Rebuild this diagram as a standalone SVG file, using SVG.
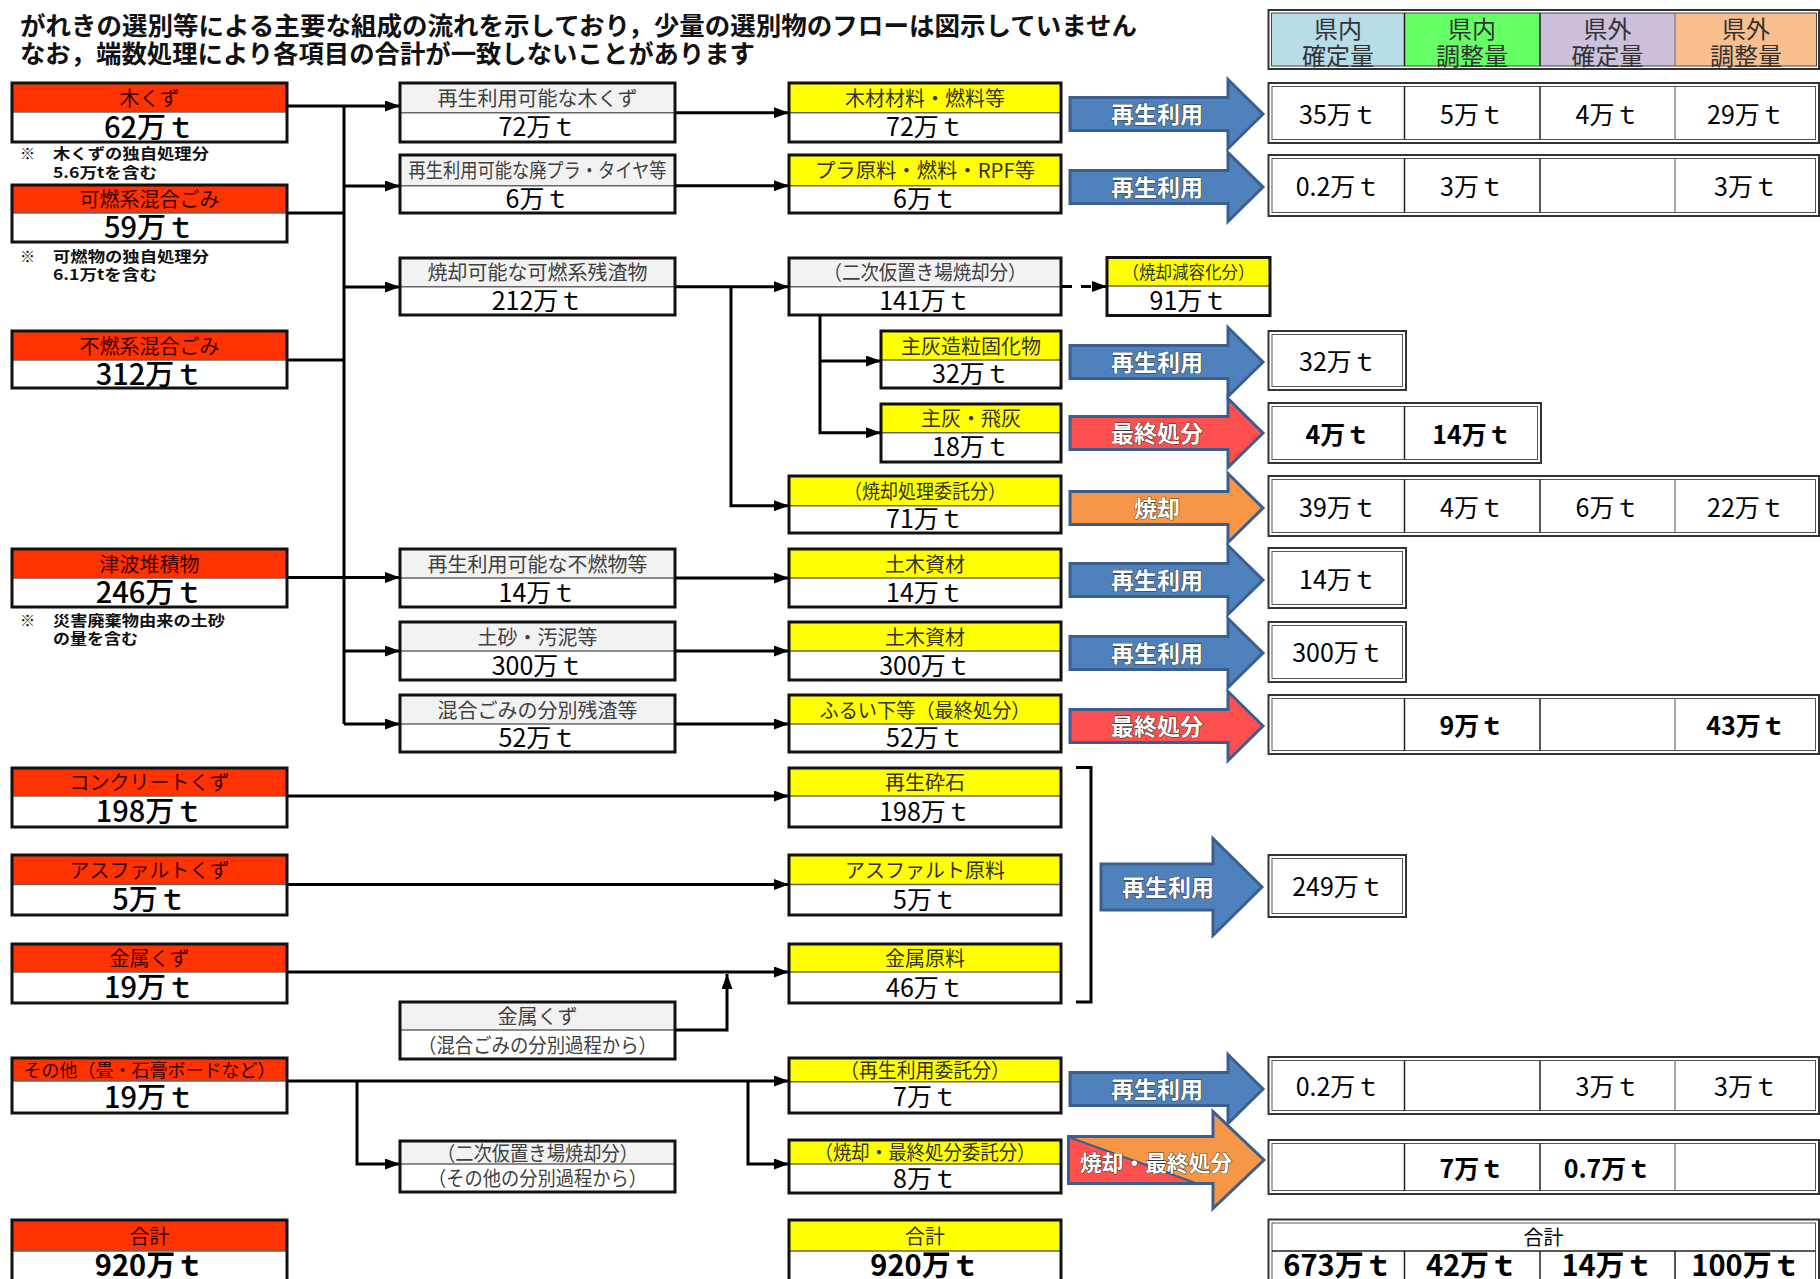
<svg xmlns="http://www.w3.org/2000/svg" width="1820" height="1279" viewBox="0 0 1820 1279">
<style>
text{font-family:"Noto Sans CJK JP","Noto Sans CJK SC",sans-serif}
.ttl{font-size:25px;font-weight:bold;fill:#111}
.note{font-size:15px;font-weight:bold;fill:#111}
.box{fill:none;stroke:#111;stroke-width:3}
.dv{stroke:#666;stroke-width:1.5}
.red{fill:#FF3300}
.yel{fill:#FFFF00}
.gry{fill:#F2F2F2}
.wht{fill:#FFFFFF}
.h{font-size:20px;text-anchor:middle;dominant-baseline:central;fill:#333}
.hg{fill:#404040}
.hr{fill:#3a0000}
.v{font-size:25px;text-anchor:middle;dominant-baseline:central;fill:#000}
.lv{font-size:29px;text-anchor:middle;dominant-baseline:central;fill:#000;font-weight:500}
.b{font-weight:bold}
.ln{fill:none;stroke:#000;stroke-width:3}
.to{fill:#fff;stroke:#333;stroke-width:2}
.ti{fill:none;stroke:#555;stroke-width:1}
.cd{stroke:#222;stroke-width:1.5}
.cdg{stroke:#888;stroke-width:1.5}
.arB{fill:#4F81BD;stroke:#3A5F8F;stroke-width:3}
.arR{fill:#FF5050;stroke:#3A5F8F;stroke-width:3}
.arO{fill:#F79646;stroke:#3A5F8F;stroke-width:3}
.at{font-size:23px;font-weight:bold;fill:#fff;stroke:#333;stroke-width:1;paint-order:stroke;text-anchor:middle;dominant-baseline:central}
.lg{font-size:24px;text-anchor:middle;dominant-baseline:central;fill:#333}
</style>
<defs>
<marker id="ah" markerUnits="userSpaceOnUse" markerWidth="16" markerHeight="11" refX="15" refY="5.5" orient="auto"><path d="M0,0 L15,5.5 L0,11 z" fill="#000"/></marker>
</defs>
<rect width="1820" height="1279" fill="#fff"/>

<g id="title">
<text class="ttl" x="20" y="35" textLength="1117" lengthAdjust="spacingAndGlyphs">がれきの選別等による主要な組成の流れを示しており，少量の選別物のフローは図示していません</text>
<text class="ttl" x="20" y="63" textLength="735" lengthAdjust="spacingAndGlyphs">なお，端数処理により各項目の合計が一致しないことがあります</text>
</g>

<g id="legend">
<rect x="1268.5" y="10" width="550.5" height="59" fill="#fff" stroke="#333" stroke-width="2"/>
<rect x="1271.5" y="13" width="133" height="53" fill="#B7DDE8"/>
<rect x="1404.5" y="13" width="135.5" height="53" fill="#66FF66"/>
<rect x="1540" y="13" width="135" height="53" fill="#CCC0DA"/>
<rect x="1675" y="13" width="141.5" height="53" fill="#FABF8F"/>
<rect x="1271.5" y="13" width="545" height="53" fill="none" stroke="#444" stroke-width="1"/>
<line class="cd" x1="1404.5" y1="13" x2="1404.5" y2="66"/>
<line class="cd" x1="1540" y1="13" x2="1540" y2="66"/>
<line class="cdg" x1="1675" y1="13" x2="1675" y2="66"/>
<text class="lg" x="1338" y="27">県内</text><text class="lg" x="1338" y="54">確定量</text>
<text class="lg" x="1472" y="27">県内</text><text class="lg" x="1472" y="54">調整量</text>
<text class="lg" x="1607.5" y="27">県外</text><text class="lg" x="1607.5" y="54">確定量</text>
<text class="lg" x="1746" y="27">県外</text><text class="lg" x="1746" y="54">調整量</text>
</g>

<g id="connectors">
<path class="ln" d="M287,106 H400" marker-end="url(#ah)"/>
<path class="ln" d="M287,213 H344"/>
<path class="ln" d="M287,360 H344"/>
<path class="ln" d="M287,577.5 H400" marker-end="url(#ah)"/>
<path class="ln" d="M344,106 V724"/>
<path class="ln" d="M344,186 H400" marker-end="url(#ah)"/>
<path class="ln" d="M344,287 H400" marker-end="url(#ah)"/>
<path class="ln" d="M344,651 H400" marker-end="url(#ah)"/>
<path class="ln" d="M344,724 H400" marker-end="url(#ah)"/>
<path class="ln" d="M675,112.7 H789" marker-end="url(#ah)"/>
<path class="ln" d="M675,185.7 H789" marker-end="url(#ah)"/>
<path class="ln" d="M675,286.7 H789" marker-end="url(#ah)"/>
<path class="ln" d="M731,286.7 V505.7 H789" marker-end="url(#ah)"/>
<path class="ln" d="M1062,286.5 H1107" stroke-width="4" stroke-dasharray="10 9" marker-end="url(#ah)"/>
<path class="ln" d="M820,315 V432.7 H881" marker-end="url(#ah)"/>
<path class="ln" d="M820,361 H881" marker-end="url(#ah)"/>
<path class="ln" d="M675,578 H789" marker-end="url(#ah)"/>
<path class="ln" d="M675,651 H789" marker-end="url(#ah)"/>
<path class="ln" d="M675,724 H789" marker-end="url(#ah)"/>
<path class="ln" d="M287,796 H789" marker-end="url(#ah)"/>
<path class="ln" d="M287,884.5 H789" stroke-width="2" marker-end="url(#ah)"/>
<path class="ln" d="M287,972 H789" stroke-width="4" marker-end="url(#ah)"/>
<path class="ln" d="M675,1030 H727 V974" marker-end="url(#ah)"/>
<path class="ln" d="M287,1081 H789" marker-end="url(#ah)"/>
<path class="ln" d="M357,1081 V1164 H400" stroke-width="2.5" marker-end="url(#ah)"/>
<path class="ln" d="M748,1081 V1164 H789" stroke-width="2.5" marker-end="url(#ah)"/>
<path class="ln" d="M1076,767.5 H1091 V1002 H1076"/>
</g>

<!-- left column -->
<g id="n-kikuzu">
<rect class="red" x="12" y="83" width="275" height="29"/><rect class="wht" x="12" y="112" width="275" height="30"/>
<line class="dv" x1="12" y1="112" x2="287" y2="112"/><rect class="box" x="12" y="83" width="275" height="59"/>
<text class="h hr" x="149.5" y="97">木くず</text><text class="lv" x="149.5" y="124.5">62万ｔ</text>
<text class="note" x="20" y="159">※</text>
<text class="note" x="53" y="159" textLength="156" lengthAdjust="spacingAndGlyphs">木くずの独自処理分</text>
<text class="note" x="53" y="178" textLength="104" lengthAdjust="spacingAndGlyphs">5.6万tを含む</text>
</g>
<g id="n-kanen">
<rect class="red" x="12" y="185" width="275" height="28"/><rect class="wht" x="12" y="213" width="275" height="29"/>
<line class="dv" x1="12" y1="213" x2="287" y2="213"/><rect class="box" x="12" y="185" width="275" height="57"/>
<text class="h hr" x="149.5" y="198.5">可燃系混合ごみ</text><text class="lv" x="149.5" y="225">59万ｔ</text>
<text class="note" x="20" y="262">※</text>
<text class="note" x="53" y="262" textLength="156" lengthAdjust="spacingAndGlyphs">可燃物の独自処理分</text>
<text class="note" x="53" y="280" textLength="104" lengthAdjust="spacingAndGlyphs">6.1万tを含む</text>
</g>
<g id="n-funen">
<rect class="red" x="12" y="331" width="275" height="29"/><rect class="wht" x="12" y="360" width="275" height="28"/>
<line class="dv" x1="12" y1="360" x2="287" y2="360"/><rect class="box" x="12" y="331" width="275" height="57"/>
<text class="h hr" x="149.5" y="345">不燃系混合ごみ</text><text class="lv" x="149.5" y="371.5">312万ｔ</text>
</g>
<g id="n-tsunami">
<rect class="red" x="12" y="549" width="275" height="29"/><rect class="wht" x="12" y="578" width="275" height="29"/>
<line class="dv" x1="12" y1="578" x2="287" y2="578"/><rect class="box" x="12" y="549" width="275" height="58"/>
<text class="h hr" x="149.5" y="563">津波堆積物</text><text class="lv" x="149.5" y="590">246万ｔ</text>
<text class="note" x="20" y="626">※</text>
<text class="note" x="53" y="626" textLength="172" lengthAdjust="spacingAndGlyphs">災害廃棄物由来の土砂</text>
<text class="note" x="53" y="644" textLength="85" lengthAdjust="spacingAndGlyphs">の量を含む</text>
</g>
<g id="n-concrete">
<rect class="red" x="12" y="768" width="275" height="28"/><rect class="wht" x="12" y="796" width="275" height="31"/>
<line class="dv" x1="12" y1="796" x2="287" y2="796"/><rect class="box" x="12" y="768" width="275" height="59"/>
<text class="h hr" x="149.5" y="781.5">コンクリートくず</text><text class="lv" x="149.5" y="809">198万ｔ</text>
</g>
<g id="n-asphalt">
<rect class="red" x="12" y="855" width="275" height="29.5"/><rect class="wht" x="12" y="884.5" width="275" height="30.5"/>
<line class="dv" x1="12" y1="884.5" x2="287" y2="884.5"/><rect class="box" x="12" y="855" width="275" height="60"/>
<text class="h hr" x="149.5" y="869.2">アスファルトくず</text><text class="lv" x="149.5" y="897">5万ｔ</text>
</g>
<g id="n-kinzoku">
<rect class="red" x="12" y="944" width="275" height="28"/><rect class="wht" x="12" y="972" width="275" height="31"/>
<line class="dv" x1="12" y1="972" x2="287" y2="972"/><rect class="box" x="12" y="944" width="275" height="59"/>
<text class="h hr" x="149.5" y="957.5">金属くず</text><text class="lv" x="149.5" y="985">19万ｔ</text>
</g>
<g id="n-sonota">
<rect class="red" x="12" y="1058" width="275" height="23"/><rect class="wht" x="12" y="1081" width="275" height="32"/>
<line class="dv" x1="12" y1="1081" x2="287" y2="1081"/><rect class="box" x="12" y="1058" width="275" height="55"/>
<text class="h hr" x="149.5" y="1069" style="font-size:18px" textLength="252" lengthAdjust="spacingAndGlyphs">その他（畳・石膏ボードなど）</text><text class="lv" x="149.5" y="1094.5">19万ｔ</text>
</g>
<g id="n-total-left">
<rect class="red" x="12" y="1220" width="275" height="31"/><rect class="wht" x="12" y="1251" width="275" height="40"/>
<line class="dv" x1="12" y1="1251" x2="287" y2="1251"/><rect class="box" x="12" y="1220" width="275" height="71"/>
<text class="h hr" x="149.5" y="1235">合計</text><text class="lv b" x="149.5" y="1263" style="font-size:29px">920万ｔ</text>
</g>

<!-- middle-left column -->
<g id="n-saisei-kikuzu">
<rect class="gry" x="400" y="83" width="275" height="29.7"/><rect class="wht" x="400" y="112.7" width="275" height="29.3"/>
<line class="dv" x1="400" y1="112.7" x2="675" y2="112.7"/><rect class="box" x="400" y="83" width="275" height="59"/>
<text class="h hg" x="537.5" y="97.3">再生利用可能な木くず</text><text class="v" x="537.5" y="125.4">72万ｔ</text>
</g>
<g id="n-saisei-haipura">
<rect class="gry" x="400" y="155" width="275" height="30.7"/><rect class="wht" x="400" y="185.7" width="275" height="27.3"/>
<line class="dv" x1="400" y1="185.7" x2="675" y2="185.7"/><rect class="box" x="400" y="155" width="275" height="58"/>
<text class="h hg" x="537.5" y="169.8" textLength="258" lengthAdjust="spacingAndGlyphs">再生利用可能な廃プラ・タイヤ等</text><text class="v" x="537.5" y="197.4">6万ｔ</text>
</g>
<g id="n-shokyaku-kanen">
<rect class="gry" x="400" y="258" width="275" height="28.7"/><rect class="wht" x="400" y="286.7" width="275" height="28.3"/>
<line class="dv" x1="400" y1="286.7" x2="675" y2="286.7"/><rect class="box" x="400" y="258" width="275" height="57"/>
<text class="h hg" x="537.5" y="271.8">焼却可能な可燃系残渣物</text><text class="v" x="537.5" y="298.9">212万ｔ</text>
</g>
<g id="n-saisei-funen">
<rect class="gry" x="400" y="549" width="275" height="29"/><rect class="wht" x="400" y="578" width="275" height="29"/>
<line class="dv" x1="400" y1="578" x2="675" y2="578"/><rect class="box" x="400" y="549" width="275" height="58"/>
<text class="h hg" x="537.5" y="563">再生利用可能な不燃物等</text><text class="v" x="537.5" y="590.5">14万ｔ</text>
</g>
<g id="n-dosha">
<rect class="gry" x="400" y="622" width="275" height="29"/><rect class="wht" x="400" y="651" width="275" height="29"/>
<line class="dv" x1="400" y1="651" x2="675" y2="651"/><rect class="box" x="400" y="622" width="275" height="58"/>
<text class="h hg" x="537.5" y="636">土砂・汚泥等</text><text class="v" x="537.5" y="663.5">300万ｔ</text>
</g>
<g id="n-zansa">
<rect class="gry" x="400" y="695" width="275" height="29"/><rect class="wht" x="400" y="724" width="275" height="28"/>
<line class="dv" x1="400" y1="724" x2="675" y2="724"/><rect class="box" x="400" y="695" width="275" height="57"/>
<text class="h hg" x="537.5" y="709">混合ごみの分別残渣等</text><text class="v" x="537.5" y="736">52万ｔ</text>
</g>
<g id="n-kinzoku-kongo">
<rect class="gry" x="400" y="1002" width="275" height="28"/><rect class="wht" x="400" y="1030" width="275" height="29"/>
<line class="dv" x1="400" y1="1030" x2="675" y2="1030"/><rect class="box" x="400" y="1002" width="275" height="57"/>
<text class="h hg" x="537.5" y="1015.5">金属くず</text><text class="h hg" x="537.5" y="1044" textLength="239" lengthAdjust="spacingAndGlyphs">（混合ごみの分別過程から）</text>
</g>
<g id="n-niji-sonota">
<rect class="gry" x="400" y="1141" width="275" height="23"/><rect class="wht" x="400" y="1164" width="275" height="28"/>
<line class="dv" x1="400" y1="1164" x2="675" y2="1164"/><rect class="box" x="400" y="1141" width="275" height="51"/>
<text class="h hg" x="537.5" y="1152" textLength="201" lengthAdjust="spacingAndGlyphs">（二次仮置き場焼却分）</text><text class="h hg" x="537.5" y="1177.5" textLength="219" lengthAdjust="spacingAndGlyphs">（その他の分別過程から）</text>
</g>

<!-- middle-right column -->
<g id="n-mokuzai">
<rect class="yel" x="789" y="83" width="272" height="29.7"/><rect class="wht" x="789" y="112.7" width="272" height="29.3"/>
<line class="dv" x1="789" y1="112.7" x2="1061" y2="112.7"/><rect class="box" x="789" y="83" width="272" height="59"/>
<text class="h" x="925" y="97.3">木材材料・燃料等</text><text class="v" x="925" y="125.4">72万ｔ</text>
</g>
<g id="n-pura">
<rect class="yel" x="789" y="155" width="272" height="30.7"/><rect class="wht" x="789" y="185.7" width="272" height="27.3"/>
<line class="dv" x1="789" y1="185.7" x2="1061" y2="185.7"/><rect class="box" x="789" y="155" width="272" height="58"/>
<text class="h" x="925" y="169.8" textLength="220" lengthAdjust="spacingAndGlyphs">プラ原料・燃料・RPF等</text><text class="v" x="925" y="197.4">6万ｔ</text>
</g>
<g id="n-niji">
<rect class="gry" x="789" y="258" width="272" height="28.7"/><rect class="wht" x="789" y="286.7" width="272" height="28.3"/>
<line class="dv" x1="789" y1="286.7" x2="1061" y2="286.7"/><rect class="box" x="789" y="258" width="272" height="57"/>
<text class="h hg" x="925" y="271.8" textLength="203" lengthAdjust="spacingAndGlyphs">（二次仮置き場焼却分）</text><text class="v" x="925" y="298.9">141万ｔ</text>
</g>
<g id="n-genyo">
<rect class="yel" x="1107" y="257.5" width="163" height="28.5"/><rect class="wht" x="1107" y="286" width="163" height="29.5"/>
<line class="dv" x1="1107" y1="286" x2="1270" y2="286"/><rect class="box" x="1107" y="257.5" width="163" height="58"/>
<text class="h" x="1188.5" y="271.3" style="font-size:18px" textLength="132" lengthAdjust="spacingAndGlyphs">（焼却減容化分）</text><text class="v" x="1188.5" y="298.8">91万ｔ</text>
</g>
<g id="n-shuhai-zoryu">
<rect class="yel" x="881" y="331" width="180" height="29"/><rect class="wht" x="881" y="360" width="180" height="28"/>
<line class="dv" x1="881" y1="360" x2="1061" y2="360"/><rect class="box" x="881" y="331" width="180" height="57"/>
<text class="h" x="971" y="345">主灰造粒固化物</text><text class="v" x="971" y="372">32万ｔ</text>
</g>
<g id="n-shuhai-hihai">
<rect class="yel" x="881" y="404" width="180" height="28.7"/><rect class="wht" x="881" y="432.7" width="180" height="29.3"/>
<line class="dv" x1="881" y1="432.7" x2="1061" y2="432.7"/><rect class="box" x="881" y="404" width="180" height="58"/>
<text class="h" x="971" y="417.8">主灰・飛灰</text><text class="v" x="971" y="445.3">18万ｔ</text>
</g>
<g id="n-shokyaku-itaku">
<rect class="yel" x="789" y="476" width="272" height="29.7"/><rect class="wht" x="789" y="505.7" width="272" height="27.3"/>
<line class="dv" x1="789" y1="505.7" x2="1061" y2="505.7"/><rect class="box" x="789" y="476" width="272" height="57"/>
<text class="h" x="925" y="490.3" textLength="162" lengthAdjust="spacingAndGlyphs">（焼却処理委託分）</text><text class="v" x="925" y="517.4">71万ｔ</text>
</g>
<g id="n-doboku1">
<rect class="yel" x="789" y="549" width="272" height="29"/><rect class="wht" x="789" y="578" width="272" height="29"/>
<line class="dv" x1="789" y1="578" x2="1061" y2="578"/><rect class="box" x="789" y="549" width="272" height="58"/>
<text class="h" x="925" y="563">土木資材</text><text class="v" x="925" y="590.5">14万ｔ</text>
</g>
<g id="n-doboku2">
<rect class="yel" x="789" y="622" width="272" height="29"/><rect class="wht" x="789" y="651" width="272" height="29"/>
<line class="dv" x1="789" y1="651" x2="1061" y2="651"/><rect class="box" x="789" y="622" width="272" height="58"/>
<text class="h" x="925" y="636">土木資材</text><text class="v" x="925" y="663.5">300万ｔ</text>
</g>
<g id="n-furuishita">
<rect class="yel" x="789" y="695" width="272" height="29"/><rect class="wht" x="789" y="724" width="272" height="28"/>
<line class="dv" x1="789" y1="724" x2="1061" y2="724"/><rect class="box" x="789" y="695" width="272" height="57"/>
<text class="h" x="925" y="709" textLength="211" lengthAdjust="spacingAndGlyphs">ふるい下等（最終処分）</text><text class="v" x="925" y="736">52万ｔ</text>
</g>
<g id="n-saisei-saiseki">
<rect class="yel" x="789" y="768" width="272" height="28"/><rect class="wht" x="789" y="796" width="272" height="31"/>
<line class="dv" x1="789" y1="796" x2="1061" y2="796"/><rect class="box" x="789" y="768" width="272" height="59"/>
<text class="h" x="925" y="781.5">再生砕石</text><text class="v" x="925" y="809.5">198万ｔ</text>
</g>
<g id="n-asphalt-genryo">
<rect class="yel" x="789" y="855" width="272" height="29.5"/><rect class="wht" x="789" y="884.5" width="272" height="30.5"/>
<line class="dv" x1="789" y1="884.5" x2="1061" y2="884.5"/><rect class="box" x="789" y="855" width="272" height="60"/>
<text class="h" x="925" y="869.2">アスファルト原料</text><text class="v" x="925" y="897.7">5万ｔ</text>
</g>
<g id="n-kinzoku-genryo">
<rect class="yel" x="789" y="944" width="272" height="28"/><rect class="wht" x="789" y="972" width="272" height="31"/>
<line class="dv" x1="789" y1="972" x2="1061" y2="972"/><rect class="box" x="789" y="944" width="272" height="59"/>
<text class="h" x="925" y="957.5">金属原料</text><text class="v" x="925" y="985.5">46万ｔ</text>
</g>
<g id="n-saisei-itaku">
<rect class="yel" x="789" y="1058" width="272" height="23.7"/><rect class="wht" x="789" y="1081.7" width="272" height="31.3"/>
<line class="dv" x1="789" y1="1081.7" x2="1061" y2="1081.7"/><rect class="box" x="789" y="1058" width="272" height="55"/>
<text class="h" x="925" y="1069.3" textLength="170" lengthAdjust="spacingAndGlyphs">（再生利用委託分）</text><text class="v" x="925" y="1095.4">7万ｔ</text>
</g>
<g id="n-shokyaku-saishu-itaku">
<rect class="yel" x="789" y="1140" width="272" height="24"/><rect class="wht" x="789" y="1164" width="272" height="29"/>
<line class="dv" x1="789" y1="1164" x2="1061" y2="1164"/><rect class="box" x="789" y="1140" width="272" height="53"/>
<text class="h" x="925" y="1151.5" textLength="221" lengthAdjust="spacingAndGlyphs">（焼却・最終処分委託分）</text><text class="v" x="925" y="1176.5">8万ｔ</text>
</g>
<g id="n-total-mid">
<rect class="yel" x="789" y="1220" width="272" height="31"/><rect class="wht" x="789" y="1251" width="272" height="40"/>
<line class="dv" x1="789" y1="1251" x2="1061" y2="1251"/><rect class="box" x="789" y="1220" width="272" height="71"/>
<text class="h" x="925" y="1235">合計</text><text class="v b" x="925" y="1263" style="font-size:29px">920万ｔ</text>
</g>

<!-- big arrows -->
<g id="a-r1"><polygon class="arB" points="1070,97.5 1228,97.5 1228,79.5 1263,114 1228,148.5 1228,130.5 1070,130.5"/><text class="at" x="1157" y="113">再生利用</text></g>
<g id="a-r2"><polygon class="arB" points="1070,170.5 1228,170.5 1228,152.5 1263,187 1228,221.5 1228,203.5 1070,203.5"/><text class="at" x="1157" y="186">再生利用</text></g>
<g id="a-r3"><polygon class="arB" points="1070,345.5 1228,345.5 1228,327.5 1263,362 1228,396.5 1228,378.5 1070,378.5"/><text class="at" x="1157" y="361">再生利用</text></g>
<g id="a-r4"><polygon class="arR" points="1070,416.5 1228,416.5 1228,398.5 1263,433 1228,467.5 1228,449.5 1070,449.5"/><text class="at" x="1157" y="432">最終処分</text></g>
<g id="a-r5"><polygon class="arO" points="1070,491.5 1228,491.5 1228,473.5 1263,508 1228,542.5 1228,524.5 1070,524.5"/><text class="at" x="1157" y="507">焼却</text></g>
<g id="a-r6"><polygon class="arB" points="1070,563.5 1228,563.5 1228,545.5 1263,580 1228,614.5 1228,596.5 1070,596.5"/><text class="at" x="1157" y="579">再生利用</text></g>
<g id="a-r7"><polygon class="arB" points="1070,636.5 1228,636.5 1228,618.5 1263,653 1228,687.5 1228,669.5 1070,669.5"/><text class="at" x="1157" y="652">再生利用</text></g>
<g id="a-r8"><polygon class="arR" points="1070,709.5 1228,709.5 1228,691.5 1263,726 1228,760.5 1228,742.5 1070,742.5"/><text class="at" x="1157" y="725">最終処分</text></g>
<g id="a-r9"><polygon class="arB" points="1101,864 1213,864 1213,838.5 1262,887 1213,935.5 1213,910 1101,910"/><text class="at" x="1168" y="886">再生利用</text></g>
<g id="a-r10"><polygon class="arB" points="1070,1072.5 1228,1072.5 1228,1054.5 1263,1089 1228,1123.5 1228,1105.5 1070,1105.5"/><text class="at" x="1157" y="1088">再生利用</text></g>
<g id="a-r11">
<polygon fill="#F79646" points="1068.5,1136.5 1213,1136.5 1213,1111.5 1264,1160 1213,1208.5 1213,1183.5 1068.5,1183.5"/>
<polygon fill="#FF5050" stroke="#3A5F8F" stroke-width="2" points="1068.5,1137 1197,1183.5 1068.5,1183.5"/>
<polygon fill="none" stroke="#3A5F8F" stroke-width="3" points="1068.5,1136.5 1213,1136.5 1213,1111.5 1264,1160 1213,1208.5 1213,1183.5 1068.5,1183.5"/>
<text class="at" x="1156" y="1161" style="font-size:22px" textLength="152" lengthAdjust="spacingAndGlyphs">焼却・最終処分</text>
</g>

<!-- result tables -->
<g id="t-r1">
<rect class="to" x="1268.5" y="83" width="550.5" height="60"/><rect class="ti" x="1272" y="86.5" width="543.5" height="53"/>
<line class="cd" x1="1404.5" y1="86.5" x2="1404.5" y2="139.5"/><line class="cd" x1="1540" y1="86.5" x2="1540" y2="139.5"/><line class="cdg" x1="1675" y1="86.5" x2="1675" y2="139.5"/>
<text class="v" x="1338" y="112.5">35万ｔ</text><text class="v" x="1472" y="112.5">5万ｔ</text><text class="v" x="1607.5" y="112.5">4万ｔ</text><text class="v" x="1746" y="112.5">29万ｔ</text>
</g>
<g id="t-r2">
<rect class="to" x="1268.5" y="155" width="550.5" height="61"/><rect class="ti" x="1272" y="158.5" width="543.5" height="54"/>
<line class="cd" x1="1404.5" y1="158.5" x2="1404.5" y2="212.5"/><line class="cd" x1="1540" y1="158.5" x2="1540" y2="212.5"/><line class="cdg" x1="1675" y1="158.5" x2="1675" y2="212.5"/>
<text class="v" x="1338" y="185">0.2万ｔ</text><text class="v" x="1472" y="185">3万ｔ</text><text class="v" x="1746" y="185">3万ｔ</text>
</g>
<g id="t-r3">
<rect class="to" x="1268.5" y="331" width="137.5" height="59"/><rect class="ti" x="1272" y="334.5" width="130.5" height="52"/>
<text class="v" x="1338" y="360">32万ｔ</text>
</g>
<g id="t-r4">
<rect class="to" x="1268.5" y="403" width="272.5" height="60"/><rect class="ti" x="1272" y="406.5" width="265.5" height="53"/>
<line class="cd" x1="1404.5" y1="406.5" x2="1404.5" y2="459.5"/>
<text class="v b" x="1338" y="432.5">4万ｔ</text><text class="v b" x="1472" y="432.5">14万ｔ</text>
</g>
<g id="t-r5">
<rect class="to" x="1268.5" y="476" width="550.5" height="60"/><rect class="ti" x="1272" y="479.5" width="543.5" height="53"/>
<line class="cd" x1="1404.5" y1="479.5" x2="1404.5" y2="532.5"/><line class="cd" x1="1540" y1="479.5" x2="1540" y2="532.5"/><line class="cdg" x1="1675" y1="479.5" x2="1675" y2="532.5"/>
<text class="v" x="1338" y="505.5">39万ｔ</text><text class="v" x="1472" y="505.5">4万ｔ</text><text class="v" x="1607.5" y="505.5">6万ｔ</text><text class="v" x="1746" y="505.5">22万ｔ</text>
</g>
<g id="t-r6">
<rect class="to" x="1268.5" y="548" width="137.5" height="60"/><rect class="ti" x="1272" y="551.5" width="130.5" height="53"/>
<text class="v" x="1338" y="577.5">14万ｔ</text>
</g>
<g id="t-r7">
<rect class="to" x="1268.5" y="622" width="137.5" height="60"/><rect class="ti" x="1272" y="625.5" width="130.5" height="53"/>
<text class="v" x="1338" y="651">300万ｔ</text>
</g>
<g id="t-r8">
<rect class="to" x="1268.5" y="695" width="550.5" height="59"/><rect class="ti" x="1272" y="698.5" width="543.5" height="52"/>
<line class="cd" x1="1404.5" y1="698.5" x2="1404.5" y2="750.5"/><line class="cd" x1="1540" y1="698.5" x2="1540" y2="750.5"/><line class="cdg" x1="1675" y1="698.5" x2="1675" y2="750.5"/>
<text class="v b" x="1472" y="724">9万ｔ</text><text class="v b" x="1746" y="724">43万ｔ</text>
</g>
<g id="t-r9">
<rect class="to" x="1268.5" y="855" width="137.5" height="62"/><rect class="ti" x="1272" y="858.5" width="130.5" height="55"/>
<text class="v" x="1338" y="884.5">249万ｔ</text>
</g>
<g id="t-r10">
<rect class="to" x="1268.5" y="1057" width="550.5" height="57"/><rect class="ti" x="1272" y="1060.5" width="543.5" height="50"/>
<line class="cd" x1="1404.5" y1="1060.5" x2="1404.5" y2="1110.5"/><line class="cd" x1="1540" y1="1060.5" x2="1540" y2="1110.5"/><line class="cdg" x1="1675" y1="1060.5" x2="1675" y2="1110.5"/>
<text class="v" x="1338" y="1084.5">0.2万ｔ</text><text class="v" x="1607.5" y="1084.5">3万ｔ</text><text class="v" x="1746" y="1084.5">3万ｔ</text>
</g>
<g id="t-r11">
<rect class="to" x="1268.5" y="1140" width="550.5" height="54"/><rect class="ti" x="1272" y="1143.5" width="543.5" height="47"/>
<line class="cd" x1="1404.5" y1="1143.5" x2="1404.5" y2="1190.5"/><line class="cd" x1="1540" y1="1143.5" x2="1540" y2="1190.5"/><line class="cdg" x1="1675" y1="1143.5" x2="1675" y2="1190.5"/>
<text class="v b" x="1472" y="1166.5">7万ｔ</text><text class="v b" x="1607.5" y="1166.5">0.7万ｔ</text>
</g>
<g id="t-total">
<rect class="to" x="1268.5" y="1219.5" width="550.5" height="75"/><rect class="ti" x="1272" y="1223" width="543.5" height="70"/>
<line class="cd" x1="1272" y1="1251" x2="1815.5" y2="1251"/>
<line class="cd" x1="1404.5" y1="1251" x2="1404.5" y2="1293"/><line class="cd" x1="1540" y1="1251" x2="1540" y2="1293"/><line class="cd" x1="1675" y1="1251" x2="1675" y2="1293"/>
<text class="h" x="1543.5" y="1236.5" style="fill:#000">合計</text>
<text class="v b" x="1338" y="1263" style="font-size:29px">673万ｔ</text><text class="v b" x="1472" y="1263" style="font-size:29px">42万ｔ</text><text class="v b" x="1607.5" y="1263" style="font-size:29px">14万ｔ</text><text class="v b" x="1746" y="1263" style="font-size:29px">100万ｔ</text>
</g>
</svg>
